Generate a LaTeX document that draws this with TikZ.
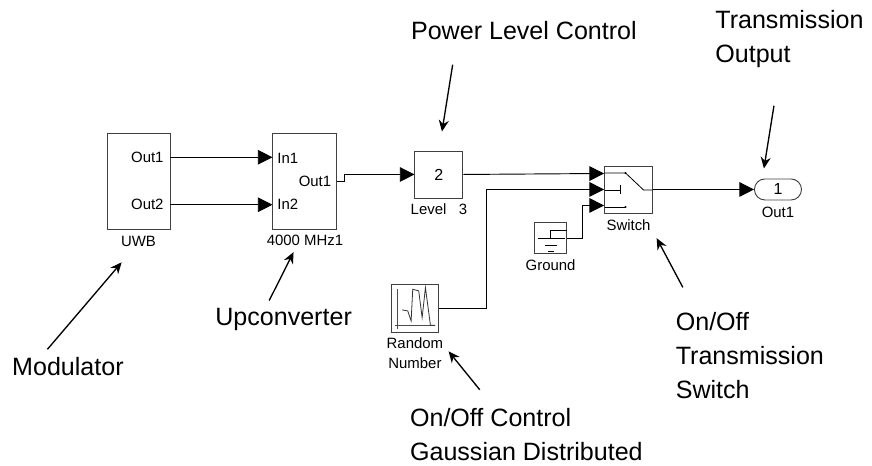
\documentclass[tikz,border=0pt]{standalone}
\usepackage{fontspec}
\setmainfont{Liberation Sans}
\usetikzlibrary{arrows.meta,positioning}

\begin{document}
\begin{tikzpicture}[
    x=0.75pt, y=-0.75pt,
    node distance=1pt,
    block/.style={draw=black!75, line width=0.7pt, inner sep=0pt, font=\fontsize{11.2}{13}\selectfont},
    caption/.style={inner sep=1pt, align=center, font=\fontsize{11.2}{15}\selectfont},
    port/.style={inner sep=0pt, font=\fontsize{11.2}{13}\selectfont},
    note/.style={inner sep=0pt, align=left, font=\fontsize{18.8}{25.5}\selectfont},
    wire/.style={-{Triangle[length=11pt,width=11pt]}, line width=0.7pt},
    arrow/.style={-{Stealth[length=8.5pt,width=7.5pt]}, line width=1pt},
    glyph/.style={line width=0.6pt}
]
\useasboundingbox (0,0) rectangle (872,465);

% blocks
\node[block, minimum width=47.25pt, minimum height=72pt] (uwb) at (138.5,181) {};
\node[block, minimum width=48pt, minimum height=72pt, right=76.5pt of uwb] (upconv) {};
\node[block, minimum width=36pt, minimum height=35.25pt, right=57.8pt of upconv, yshift=4.9pt] (level) {\fontsize{12}{14}\selectfont 2};
\node[block, minimum width=36pt, minimum height=35.25pt, right=105.5pt of level, yshift=-11.25pt] (switch) {};
\node[block, rounded corners=7.8pt, minimum width=35.25pt, minimum height=15.75pt, right=75.75pt of switch] (outport) {\fontsize{12}{14}\selectfont 1};
\node[block, minimum width=24pt, minimum height=23.25pt, below left=6.75pt and 27.75pt of switch] (ground) {};
\node[block, minimum width=35.25pt, minimum height=36pt, below=64.5pt of level, xshift=-18pt] (randnum) {};

% block captions
\node[caption, below=4pt of uwb] (capuwb) {UWB};
\node[caption, below=3pt of upconv] (capupconv) {4000 MHz1};
\node[caption, below=3pt of level] (caplevel) {Level\ \ \ 3};
\node[caption, below=3.5pt of switch] (capswitch) {Switch};
\node[caption, below=4pt of outport] (capout) {Out1};
\node[caption, below=3pt of ground] (capground) {Ground};
\node[caption, below=2pt of randnum] (caprand) {Random\\Number};

% port names
\node[port, anchor=east] (uwbone) at ([xshift=-5pt,yshift=17.8pt]uwb.east) {Out1};
\node[port, anchor=east] (uwbtwo) at ([xshift=-5pt,yshift=-17.8pt]uwb.east) {Out2};
\node[port, anchor=west] (upone) at ([xshift=3.5pt,yshift=17.3pt]upconv.west) {In1};
\node[port, anchor=west] (uptwo) at ([xshift=3.5pt,yshift=-17.8pt]upconv.west) {In2};
\node[port, anchor=east] (upout) at ([xshift=-4.5pt]upconv.east) {Out1};

% notes
\node[note, above=82.5pt of level, xshift=63.75pt] (power) {Power Level Control};
\node[note, above=83pt of outport, xshift=8.6pt] (trans) {Transmission\\Output};
\node[note, below=96pt of uwb, xshift=-52.9pt] (modul) {Modulator};
\node[note, below=59.25pt of upconv, xshift=-16pt] (upnote) {Upconverter};
\node[note, below=74.25pt of switch, xshift=91pt] (switchnote) {On/Off\\Transmission\\Switch};
\node[note, below=56.25pt of randnum, xshift=83.6pt] (randnote) {On/Off Control\\Gaussian Distributed};

% wires
\draw[wire] ([yshift=17.8pt]uwb.east) -- ([yshift=17.8pt]upconv.west);
\draw[wire] ([yshift=-17.8pt]uwb.east) -- ([yshift=-17.8pt]upconv.west);
\draw[wire] (upconv.east) -- ++(5.25pt,0) |- (level.west);
\draw[wire] (level.east) -- ([yshift=12pt]switch.west);
\draw[wire] (randnum.east) -- ++(36pt,0) |- (switch.west);
\draw[wire] (ground.east) -- ++(11.25pt,0) |- ([yshift=-12pt]switch.west);
\draw[wire] (switch.east) -- (outport.west);

% note arrows
\draw[arrow, shorten <=18.4pt, shorten >=14.4pt] (power.188.3) -- (level.north);
\draw[arrow, shorten <=28.8pt, shorten >=7.6pt] (trans.252) -- (outport.145);
\draw[arrow, shorten <=8pt, shorten >=32.4pt] (modul.161.6) -- (uwb.283.5);
\draw[arrow, shorten <=6.7pt, shorten >=19pt] (upnote.148) -- (upconv.south);
\draw[arrow, shorten <=21.3pt, shorten >=21pt] (switchnote.141) -- (switch.302);
\draw[arrow, shorten <=18pt, shorten >=17.3pt] (randnote.140) -- (randnum.308);

% switch symbol
\begin{scope}[shift={(switch.center)}]
\draw[glyph] (-24,-16.5) -- (-3,-16.5) -- (15,0.5) -- (24,0.5);
\draw[glyph] (-24,0.5) -- (-8,0.5) (-8,-4) -- (-8,5);
\draw[glyph] (-24,17.5) -- (-3,17.5);
\fill (-3,-16.5) circle (1.1) (-3,17.5) circle (1.1);
\end{scope}

% ground symbol
\begin{scope}[shift={(ground.center)}]
\draw[glyph] (16,-8) -- (0,-8) -- (0,0);
\draw[glyph] (-13,0) -- (14,0) (-6,7) -- (6,7) (-3,13) -- (3,13);
\end{scope}

% random number symbol
\begin{scope}[shift={(randnum.center)}]
\draw[glyph, black!70] (-17.5,-20) -- (-17.5,20) (-20,16.3) -- (20,16.3);
\draw[glyph, black!80] (-12.8,1) -- (-7.2,2) -- (-3.8,12) -- (-2.2,-19.7) -- (3.8,-18) -- (7.2,8.7) -- (10.5,-21.3) -- (15.5,16.3) -- (20.5,16.3);
\end{scope}
\end{tikzpicture}
\end{document}
